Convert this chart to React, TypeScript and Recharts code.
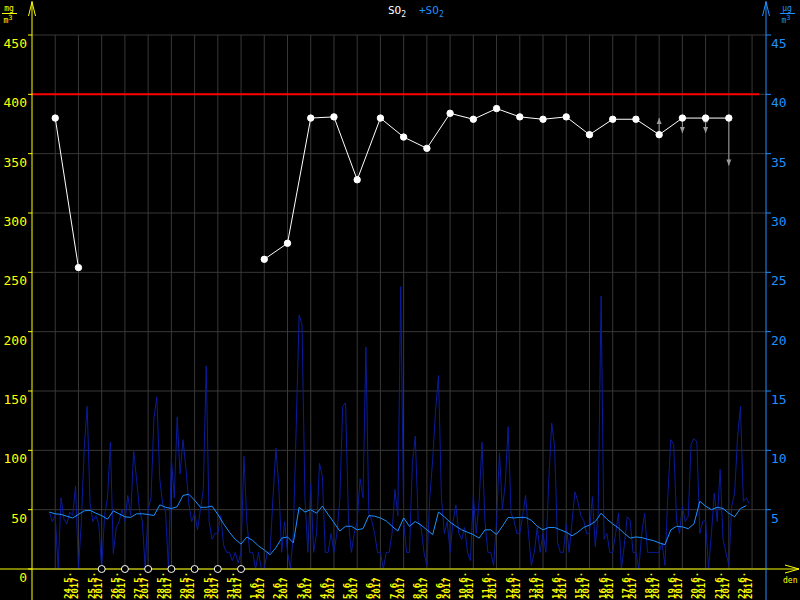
import React from 'react'
import { ComposedChart, Line, Scatter, XAxis, YAxis, CartesianGrid, ReferenceLine } from 'recharts'

// x axis: one unit = one day, 0 = 24.5.2017
const dateLabels = [
  '24.5.', '25.5.', '26.5.', '27.5.', '28.5.', '29.5.', '30.5.', '31.5.',
  '1.6.', '2.6.', '3.6.', '4.6.', '5.6.', '6.6.', '7.6.', '8.6.', '9.6.', '10.6.',
  '11.6.', '12.6.', '13.6.', '14.6.', '15.6.', '16.6.', '17.6.', '18.6.', '19.6.',
  '20.6.', '21.6.', '22.6.'
]
const yearLabel = '2017'
const labelTicks = dateLabels.map((_, i) => i + 0.5)
const gridDays = [...dateLabels.map((_, i) => i), dateLabels.length]
const leftTicks = [0, 50, 100, 150, 200, 250, 300, 350, 400, 450]
const rightTicks = [5, 10, 15, 20, 25, 30, 35, 40, 45]
const limitValue = 400

// daily SO2 (left axis), null = no data
const dailyVals: (number | null)[] = [
  380, 254, null, null, null, null, null, null, null,
  261, 274.5, 380, 381, 328, 380, 364, 354.5, 384, 379, 388,
  381, 379, 381, 366, 379, 379, 366, 380, 380, 380
]
const missingDays = [2, 3, 4, 5, 6, 7, 8]

// grey range arrows on the daily series
const arrowDays = [26, 27, 28, 28, 29]
const arrowTips = [380, 367.5, 381.5, 367.5, 340]

// hourly-ish SO2 (right axis), every 3 h from day -0.25
const rawStart = -0.25
const rawStep = 0.125
const rawVals = [
  4.8, 4.0,
  4.5, 0, 6.0, 4.2, 3.8, 4.8, 4.5, 7.0,
  0, 4.0, 10.2, 13.7, 5.5, 4.0, 4.5, 3.8,
  0, 4.5, 6.0, 10.7, 1.3, 3.5, 4.0, 5.0,
  4.0, 6.2, 4.5, 10.0, 7.6, 5.0, 4.0, 0,
  5.0, 6.0, 12.7, 14.5, 7.6, 5.5, 4.8, 0,
  9.3, 6.0, 12.8, 8.0, 10.9, 8.5, 5.5, 4.0,
  4.7, 3.3, 5.0, 6.7, 17.1, 4.0, 2.5, 3.0,
  3.0, 4.5, 2.0, 1.4, 1.4, 0.7, 1.4, 0.5,
  1.4, 9.5, 4.0, 1.4, 1.4, 0, 1.4, 0,
  0, 1.4, 1.4, 6.0, 10.2, 7.0, 1.4, 4.0,
  1.4, 0, 3.0, 12.0, 21.4, 20.6, 6.0, 1.4,
  7.2, 1.4, 3.0, 8.9, 7.8, 1.4, 1.4, 3.0,
  1.4, 3.0, 5.8, 13.7, 14.0, 4.0, 1.4, 3.0,
  4.0, 7.6, 6.0, 18.7, 4.7, 4.1, 3.0, 1.4,
  1.4, 0, 1.4, 1.4, 3.0, 6.7, 4.5, 23.8,
  4.0, 1.4, 1.4, 8.9, 11.2, 4.1, 3.5, 1.4,
  0.3, 6.0, 9.2, 13.4, 16.3, 6.1, 3.0, 4.0,
  1.4, 4.0, 5.4, 3.0, 2.5, 3.5, 1.4, 0.7,
  6.2, 3.0, 5.7, 10.7, 4.0, 1.4, 1.4, 0.3,
  4.0, 9.8, 5.0, 7.2, 12.0, 4.7, 4.1, 3.0,
  3.0, 4.5, 6.2, 3.0, 0.3, 1.4, 3.5, 1.4,
  3.0, 1.4, 7.6, 12.3, 10.3, 2.2, 1.4, 1.4,
  3.8, 1.4, 4.0, 6.5, 5.7, 4.5, 4.1, 3.0,
  3.0, 6.1, 1.9, 4.7, 23.0, 2.5, 3.0, 1.4,
  1.4, 3.0, 4.7, 0, 2.0, 4.4, 4.1, 1.4,
  1.4, 0, 3.0, 4.7, 1.4, 1.4, 1.4, 1.4,
  1.4, 2.2, 0.3, 6.2, 10.9, 10.5, 4.1, 3.0,
  5.3, 4.0, 4.4, 10.5, 11.0, 10.7, 3.0, 4.0,
  4.1, 0, 3.0, 6.4, 4.0, 8.4, 2.5, 1.4,
  0.3, 5.3, 6.4, 11.1, 13.7, 5.7, 6.0, 5.5
]

// running mean (right axis), every 6 h from day -0.25
const meanStart = -0.25
const meanStep = 0.25
const meanVals = [
  4.8,
  4.65, 4.6, 4.45, 4.3,
  4.6, 4.9, 4.95, 4.7,
  4.5, 4.2, 4.9, 4.65,
  4.4, 4.35, 4.65, 4.65,
  4.6, 4.5, 5.4, 5.2,
  5.1, 5.25, 6.2, 6.3,
  5.8, 5.2, 5.2, 5.3,
  4.6, 3.8, 3.1, 2.5,
  2.1, 2.7, 2.4, 1.95,
  1.6, 1.2, 1.8, 2.6,
  2.7, 2.2, 5.2, 4.8,
  5.0, 4.7, 5.3, 4.6,
  3.9, 3.2, 3.6, 3.6,
  3.3, 3.4, 4.5, 4.45,
  4.3, 4.05, 3.6, 3.2,
  4.3, 3.6, 4.0, 3.7,
  3.3, 2.9, 4.8, 4.4,
  3.95, 3.6, 3.3, 3.1,
  2.9, 2.6, 3.3, 3.3,
  2.9, 3.6, 4.35, 4.3,
  4.35, 4.35, 4.1, 3.6,
  3.3, 3.5, 3.5, 3.3,
  3.1, 2.8, 3.1, 3.5,
  3.7, 4.0, 4.7, 4.2,
  3.8, 3.45, 3.0, 2.6,
  2.7, 2.65, 2.5, 2.4,
  2.2, 2.05, 3.3, 3.6,
  3.55, 3.4, 3.8, 5.7,
  5.3, 5.0, 5.2, 5.1,
  4.7, 4.4, 5.1, 5.34
]

const YELLOW = '#ffff00'
const BLUE = '#1e90ff'
const NAVY = '#0a1c9c'
const GRID = '#383838'
const MONO = '"DejaVu Sans Mono", monospace'

const rawData = rawVals.map((v, i) => ({ x: rawStart + i * rawStep, y: v }))
const meanData = meanVals.map((v, i) => ({ x: meanStart + i * meanStep, y: v }))
const dailyData = dailyVals.map((v, i) => ({ x: i, y: v }))
const missingData = missingDays.map((d) => ({ x: d, y: 0 }))
const arrowLines = arrowDays.map((d, i) => [
  { x: d, y: dailyVals[d] },
  { x: d, y: arrowTips[i] }
])
const arrowHeads = arrowDays.map((d, i) => ({
  x: d,
  y: arrowTips[i],
  up: arrowTips[i] > (dailyVals[d] ?? 0) ? 1 : 0
}))

const DateTick = ({ x, y, index }: any) => (
  <g transform={`translate(${x},${y + 30})`}>
    <text transform="rotate(-90)" fill={YELLOW} fontSize={9} fontWeight="bold" fontFamily={MONO} textAnchor="start">
      <tspan x={0} y={4.5}>{dateLabels[index]}</tspan>
      <tspan x={0} y={11.5}>{yearLabel}</tspan>
    </text>
  </g>
)

const LeftTick = ({ x, y, payload }: any) => (
  <text x={x} y={y + 13} textAnchor="end" fill={YELLOW} fontSize={13} fontFamily={MONO}>
    {payload.value}
  </text>
)

const RightTick = ({ x, y, payload }: any) => (
  <text x={x} y={y + 13} textAnchor="start" fill={BLUE} fontSize={13} fontFamily={MONO}>
    {payload.value}
  </text>
)

const MissingMark = ({ cx, cy }: any) => (
  <circle cx={cx} cy={cy} r={3.5} fill="#000" stroke="#fff" strokeWidth={1} />
)

const ArrowHead = ({ cx, cy, payload }: any) => {
  const s = payload.up ? 1 : -1
  return (
    <polygon
      points={`${cx},${cy} ${cx - 2.5},${cy + s * 6} ${cx + 2.5},${cy + s * 6}`}
      fill="#9a9a9a"
    />
  )
}

function Unit({ x, top, color }: { x: number; top: string; color: string }) {
  return (
    <g fill={color} fontFamily={MONO} fontSize={8}>
      <text x={x + 7} y={11} textAnchor="middle">{top}</text>
      <line x1={x} x2={x + 15} y1={13.5} y2={13.5} stroke={color} strokeWidth={1} />
      <text x={x + 6} y={23} textAnchor="middle">m<tspan dy={-3} fontSize={7}>3</tspan></text>
    </g>
  )
}

export default function App() {
  return (
    <div style={{ position: 'absolute', left: 0, top: 0, width: 800, height: 600, background: '#000' }}>
      <ComposedChart width={800} height={600} margin={{ top: 35, right: 0, bottom: 0, left: 0 }}>
        <CartesianGrid
          stroke={GRID}
          yAxisId="l"
          verticalValues={gridDays}
          horizontalValues={leftTicks}
        />
        <XAxis
          type="number"
          dataKey="x"
          domain={[-1, 30.6]}
          allowDataOverflow
          ticks={labelTicks}
          interval={0}
          height={31}
          tickSize={0}
          tickMargin={0}
          tickLine={false}
          axisLine={{ stroke: YELLOW }}
          tick={<DateTick />}
        />
        <YAxis
          yAxisId="l"
          domain={[0, 450]}
          ticks={leftTicks}
          interval={0}
          width={32}
          tickSize={4}
          tickMargin={1}
          axisLine={{ stroke: YELLOW }}
          tickLine={{ stroke: YELLOW }}
          tick={<LeftTick />}
        />
        <YAxis
          yAxisId="r"
          orientation="right"
          domain={[0, 45]}
          ticks={rightTicks}
          interval={0}
          width={34}
          tickSize={5}
          tickMargin={0}
          axisLine={{ stroke: BLUE }}
          tickLine={{ stroke: BLUE }}
          tick={<RightTick />}
        />
        <ReferenceLine
          yAxisId="l"
          segment={[{ x: -1, y: limitValue }, { x: 30.3, y: limitValue }]}
          stroke="#ff0000"
          strokeWidth={2}
        />
        <Line
          yAxisId="r"
          data={rawData}
          dataKey="y"
          type="linear"
          stroke={NAVY}
          strokeWidth={1}
          dot={false}
          isAnimationActive={false}
        />
        <Line
          yAxisId="r"
          data={meanData}
          dataKey="y"
          type="linear"
          stroke={BLUE}
          strokeWidth={1}
          dot={false}
          isAnimationActive={false}
        />
        {arrowLines.map((seg, i) => (
          <Line
            key={i}
            yAxisId="l"
            data={seg}
            dataKey="y"
            stroke="#9a9a9a"
            strokeWidth={1}
            dot={false}
            isAnimationActive={false}
          />
        ))}
        <Scatter yAxisId="l" data={arrowHeads} dataKey="y" shape={<ArrowHead />} isAnimationActive={false} />
        <Line
          yAxisId="l"
          data={dailyData}
          dataKey="y"
          type="linear"
          stroke="#ffffff"
          strokeWidth={1}
          dot={{ r: 3.2, fill: '#ffffff', stroke: '#ffffff', strokeWidth: 1 }}
          isAnimationActive={false}
        />
        <Scatter yAxisId="l" data={missingData} dataKey="y" shape={<MissingMark />} isAnimationActive={false} />
      </ComposedChart>
      <svg width={800} height={600} style={{ position: 'absolute', left: 0, top: 0, pointerEvents: 'none' }}>
        <g stroke={YELLOW} strokeWidth={1}>
          <line x1={32} x2={32} y1={1} y2={35} />
          <line x1={32} x2={32} y1={569} y2={600} />
          <line x1={32} x2={28.5} y1={2} y2={16} />
          <line x1={32} x2={35.5} y1={2} y2={16} />
          <line x1={0} x2={32} y1={569} y2={569} />
          <line x1={766} x2={799} y1={569} y2={569} />
          <line x1={799} x2={785} y1={569} y2={565} />
          <line x1={799} x2={785} y1={569} y2={573} />
        </g>
        <g stroke={BLUE} strokeWidth={1}>
          <line x1={766} x2={766} y1={1} y2={35} />
          <line x1={766} x2={766} y1={569} y2={600} />
          <line x1={766} x2={762.5} y1={2} y2={16} />
          <line x1={766} x2={769.5} y1={2} y2={16} />
        </g>
        <Unit x={2} top="mg" color={YELLOW} />
        <Unit x={780} top="µg" color={BLUE} />
        <text x={783} y={583} fill={YELLOW} fontFamily={MONO} fontSize={8}>den</text>
        <text x={388} y={14} fontFamily={MONO} fontSize={11} fill="#ffffff">
          SO<tspan dy={3} fontSize={8}>2</tspan>
        </text>
        <text x={419} y={14} fontFamily={MONO} fontSize={11} fill={BLUE}>
          +SO<tspan dy={3} fontSize={8}>2</tspan>
        </text>
      </svg>
    </div>
  )
}
